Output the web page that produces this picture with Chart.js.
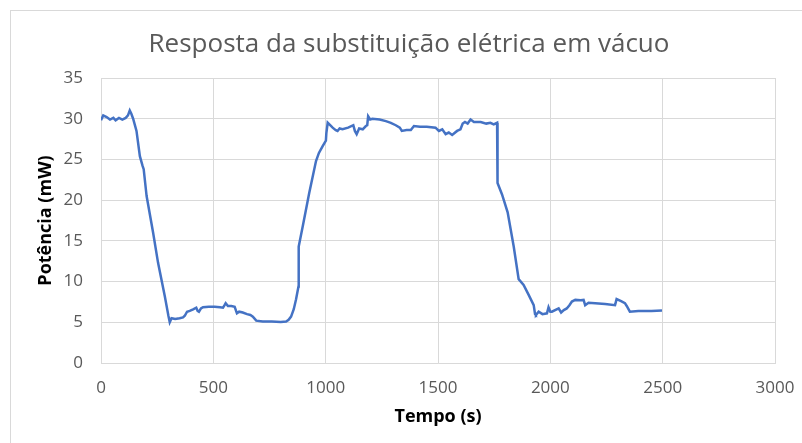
<!DOCTYPE html>
<html>
<head>
<meta charset="utf-8">
<script src="https://cdn.jsdelivr.net/npm/chart.js@4"></script>
<style>
    html, body { margin: 0; padding: 0; background: #fff; }
    #wrap { position: relative; width: 802px; height: 443px; overflow: hidden; font-family: 'Open Sans', 'Noto Sans', sans-serif; }
    #frame { position: absolute; left: 10px; top: 10px; width: 900px; height: 500px; border: 1px solid #d9d9d9; }
    #chart { position: absolute; left: 0; top: 0; }
    #titulo { position: absolute; left: 9px; width: 800px; top: 24px; text-align: center; white-space: nowrap;
              font-size: 26px; line-height: 36px; color: #595959; }
</style>
</head>
<body>
<div id="wrap">
    <div id="frame"></div>
    <canvas id="chart" width="802" height="443"></canvas>
    <div id="titulo">Resposta da substituição elétrica em vácuo</div>
</div>
<script>
// tempo (s)
const tempos = [0, 10, 25, 40, 55, 65, 80, 95, 110, 120, 128, 135, 143, 158, 173, 185, 190, 203, 232, 254, 284, 300, 306, 314, 330, 350, 365, 373, 383, 395, 410, 424, 430, 436, 445, 454, 480, 506, 530, 543, 550, 555, 565, 580, 595, 605, 615, 631, 650, 665, 676, 691, 720, 760, 800, 824, 835, 846, 858, 868, 879, 880, 898, 927, 957, 970, 986, 1001, 1003, 1009, 1020, 1031, 1045, 1053, 1062, 1075, 1100, 1123, 1130, 1138, 1149, 1165, 1179, 1185, 1189, 1198, 1208, 1240, 1268, 1290, 1312, 1330, 1339, 1360, 1379, 1393, 1420, 1450, 1489, 1504, 1519, 1534, 1548, 1563, 1585, 1600, 1610, 1620, 1632, 1645, 1660, 1690, 1715, 1733, 1748, 1763, 1765, 1785, 1810, 1837, 1859, 1881, 1903, 1926, 1932, 1936, 1948, 1965, 1985, 1992, 2000, 2007, 2037, 2048, 2060, 2073, 2085, 2096, 2111, 2135, 2148, 2155, 2170, 2200, 2244, 2288, 2295, 2315, 2332, 2340, 2354, 2392, 2450, 2497];
// potência (mW)
const potencias = [29.8, 30.4, 30.2, 29.9, 30.1, 29.8, 30.1, 29.9, 30.1, 30.4, 31.0, 30.6, 30.0, 28.5, 25.4, 24.2, 23.8, 20.5, 16.0, 12.3, 8.2, 5.8, 5.0, 5.5, 5.4, 5.5, 5.6, 5.8, 6.3, 6.4, 6.6, 6.8, 6.4, 6.3, 6.7, 6.85, 6.9, 6.9, 6.85, 6.8, 7.1, 7.35, 7.0, 7.0, 6.9, 6.1, 6.3, 6.2, 6.0, 5.9, 5.7, 5.2, 5.1, 5.1, 5.05, 5.1, 5.3, 5.7, 6.6, 7.8, 9.4, 14.3, 16.8, 20.9, 24.8, 25.8, 26.6, 27.3, 28.2, 29.5, 29.2, 28.9, 28.6, 28.5, 28.8, 28.7, 28.9, 29.2, 28.5, 28.1, 28.8, 28.7, 29.1, 29.2, 30.3, 29.9, 30.0, 29.9, 29.7, 29.5, 29.2, 28.9, 28.5, 28.6, 28.6, 29.1, 29.0, 29.0, 28.9, 28.5, 28.7, 28.1, 28.3, 28.0, 28.5, 28.7, 29.4, 29.6, 29.4, 29.9, 29.6, 29.6, 29.4, 29.5, 29.3, 29.5, 22.1, 20.7, 18.5, 14.3, 10.3, 9.6, 8.4, 7.1, 6.0, 5.9, 6.3, 6.0, 6.1, 6.85, 6.3, 6.3, 6.7, 6.2, 6.5, 6.7, 7.1, 7.55, 7.75, 7.7, 7.75, 7.1, 7.4, 7.35, 7.25, 7.1, 7.85, 7.6, 7.35, 7.0, 6.3, 6.4, 6.4, 6.45];

const xTicks = [0, 500, 1000, 1500, 2000, 2500, 3000];
const yTicks = [0, 5, 10, 15, 20, 25, 30, 35];

const pontos = tempos.map((t, i) => ({ x: t, y: potencias[i] }));

const cinza = '#595959';
const grade = '#d9d9d9';
const fonte = "'Open Sans', 'Noto Sans', sans-serif";

new Chart(document.getElementById('chart'), {
    type: 'line',
    data: {
        datasets: [{
            data: pontos,
            borderColor: '#4472C4',
            borderWidth: 2.5,
            pointRadius: 0,
            tension: 0,
            fill: false
        }]
    },
    options: {
        responsive: false,
        animation: false,
        layout: { padding: { left: 0, right: 27, top: 78, bottom: 0 } },
        plugins: {
            legend: { display: false },
            tooltip: { enabled: false },
            title: { display: false }
        },
        scales: {
            x: {
                type: 'linear',
                min: 0,
                max: 3000,
                afterBuildTicks: (axis) => { axis.ticks = xTicks.map(v => ({ value: v })); },
                afterFit: (axis) => {
                    axis.height = 80;
                    axis.paddingLeft = 0;
                    axis.paddingRight = 0;
                },
                grid: { color: grade, drawTicks: false },
                border: { color: grade },
                ticks: { color: cinza, font: { family: fonte, size: 17 }, padding: 15, maxRotation: 0, callback: (v) => String(v) },
                title: {
                    display: true,
                    text: 'Tempo (s)',
                    color: '#000',
                    font: { family: fonte, size: 18, weight: 'bold' },
                    padding: { top: 0, bottom: 15 }
                }
            },
            y: {
                min: 0,
                max: 35,
                afterBuildTicks: (axis) => { axis.ticks = yTicks.map(v => ({ value: v })); },
                afterFit: (axis) => {
                    axis.width = 101;
                    axis.paddingTop = 0;
                    axis.paddingBottom = 0;
                },
                grid: { color: grade, drawTicks: false },
                border: { color: grade },
                ticks: { color: cinza, font: { family: fonte, size: 17 }, padding: 18, callback: (v) => String(v) },
                title: {
                    display: true,
                    text: 'Potência (mW)',
                    color: '#000',
                    font: { family: fonte, size: 18, weight: 'bold' },
                    padding: { top: 35, bottom: 0 }
                }
            }
        }
    }
});
</script>
</body>
</html>
